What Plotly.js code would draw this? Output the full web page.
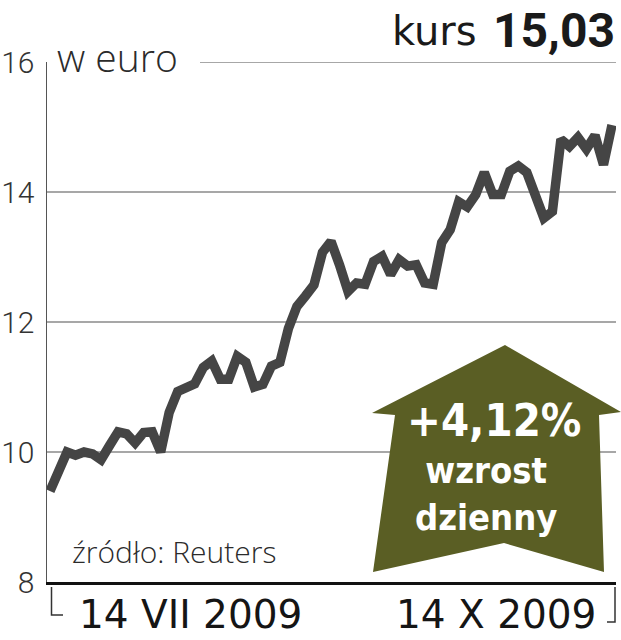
<!DOCTYPE html>
<html>
<head>
<meta charset="utf-8">
<script src="https://cdn.plot.ly/plotly-3.0.1.min.js"></script>
<style>html,body{margin:0;padding:0;background:#fff;}#chart{width:621px;height:640px;}</style>
</head>
<body>
<div id="chart"></div>
<script>
// daily closing prices (EUR), 14 VII 2009 – 14 X 2009
const days = Array.from({length: 67}, (_, i) => i);
const prices = [
  9.40, 9.75, 10.00, 9.95, 10.00, 9.97, 9.88, 10.10, 10.31, 10.28,
  10.14, 10.30, 10.31, 10.00, 10.61, 10.93, 11.00, 11.05, 11.30, 11.40,
  11.12, 11.12, 11.47, 11.38, 11.00, 11.04, 11.32, 11.38, 11.90, 12.24,
  12.40, 12.57, 13.07, 13.24, 12.88, 12.47, 12.60, 12.58, 12.93, 13.01,
  12.73, 12.96, 12.86, 12.88, 12.60, 12.58, 13.22, 13.42, 13.85, 13.77,
  13.96, 14.30, 13.96, 13.96, 14.32, 14.40, 14.30, 13.93, 13.60, 13.70,
  14.81, 14.70, 14.84, 14.66, 14.87, 14.42, 15.03
];
const yTicks = [8, 10, 12, 14, 16];
const dateLabels = ['14 VII 2009', '14 X 2009'];
const unitLabel = 'w euro';
const lastLabel = 'kurs';
const lastValue = '15,03';
const changeText = '+4,12%';
const changeLabel = ['wzrost', 'dzienny'];
const sourceText = 'źródło: Reuters';

const W = 621, H = 640, L = 47, R = 5, T = 62, B = 58;
const pw = W - L - R, ph = H - T - B;
const px = x => (x - L) / pw;
const py = y => 1 - (y - T) / ph;

const LIGHT = '"Open Sans", "DejaVu Sans", sans-serif';
const TICK = 'Roboto, "Open Sans", sans-serif';
const WIDE = '"DejaVu Sans", sans-serif';
const COND = '"DejaVu Sans Condensed", "Roboto", sans-serif';
const BOLD = 'Roboto, "Liberation Sans", sans-serif';
const dark = '#2b2b2b';

const shapes = [];
// gridlines
yTicks.slice(1).forEach(v => {
  shapes.push({type: 'line', xref: 'paper', yref: 'y', x0: v === 16 ? px(200) : 0, x1: 1, y0: v, y1: v,
    line: {color: '#8a8a8a', width: 1.5}, layer: 'below'});
});
// brackets under x axis
shapes.push({type: 'path', xref: 'paper', yref: 'paper',
  path: `M ${px(51.5)} ${py(587)} L ${px(51.5)} ${py(615)} L ${px(63)} ${py(615)}`,
  line: {color: '#333', width: 1.5}});
shapes.push({type: 'path', xref: 'paper', yref: 'paper',
  path: `M ${px(615)} ${py(587)} L ${px(615)} ${py(622)} L ${px(607)} ${py(622)}`,
  line: {color: '#333', width: 1.5}});
// arrow
const arrowPts = [[505,345],[621,412],[599,415],[604,572],[504,543],[373,572],[395,415],[372,413]];
shapes.push({type: 'path', xref: 'paper', yref: 'paper', layer: 'above',
  path: 'M ' + arrowPts.map(p => `${px(p[0])} ${py(p[1])}`).join(' L ') + ' Z',
  fillcolor: '#5a5e24', line: {width: 0}});

const annotations = [
  {text: unitLabel, xref: 'paper', yref: 'paper', x: px(55), y: py(56), xanchor: 'left', yanchor: 'middle',
   showarrow: false, font: {family: LIGHT, size: 39, color: dark, weight: 300}},
  {text: lastLabel, xref: 'paper', yref: 'paper', x: px(479), y: py(31),
   xanchor: 'right', yanchor: 'middle', showarrow: false, font: {family: WIDE, size: 40, color: '#1a1a1a'}},
  {text: '<b>' + lastValue + '</b>', xref: 'paper', yref: 'paper', x: px(617), y: py(31),
   xanchor: 'right', yanchor: 'middle', showarrow: false, font: {family: BOLD, size: 48, color: '#1a1a1a'}},
  {text: sourceText, xref: 'paper', yref: 'paper', x: px(70), y: py(551), xanchor: 'left', yanchor: 'middle',
   showarrow: false, font: {family: LIGHT, size: 30, color: dark, weight: 300}},
  {text: dateLabels[0], xref: 'paper', yref: 'paper', x: px(190), y: py(614), xanchor: 'center', yanchor: 'middle',
   showarrow: false, font: {family: WIDE, size: 39, color: '#151515'}},
  {text: dateLabels[1], xref: 'paper', yref: 'paper', x: px(496), y: py(614), xanchor: 'center', yanchor: 'middle',
   showarrow: false, font: {family: WIDE, size: 39, color: '#151515'}},
  {text: '<b>' + changeText + '</b>', xref: 'paper', yref: 'paper', x: px(494), y: py(420), xanchor: 'center', yanchor: 'middle',
   showarrow: false, font: {family: COND, size: 45, color: '#ffffff'}},
  {text: '<b>' + changeLabel.join('<br>') + '</b>', xref: 'paper', yref: 'paper', x: px(486), y: py(494), xanchor: 'center', yanchor: 'middle',
   showarrow: false, font: {family: COND, size: 36, color: '#ffffff'}}
];

const trace = {
  x: days, y: prices, type: 'scatter', mode: 'lines',
  line: {color: '#454545', width: 9.5}, cliponaxis: false, hoverinfo: 'skip'
};

const layout = {
  width: W, height: H,
  margin: {l: L, r: R, t: T, b: B, pad: 0},
  paper_bgcolor: '#fff', plot_bgcolor: '#fff',
  showlegend: false,
  xaxis: {range: [-0.35, 66.47], showgrid: false, zeroline: false, showticklabels: false, ticks: '',
          showline: true, linecolor: '#111', linewidth: 3, fixedrange: true},
  yaxis: {range: [8, 16], tickvals: yTicks, ticktext: yTicks.map(String), showgrid: false, zeroline: false,
          ticks: '', ticklabelstandoff: 5, showline: true, linecolor: '#555', linewidth: 1.5,
          tickfont: {family: TICK, size: 30, color: '#333', weight: 300}, fixedrange: true},
  shapes: shapes,
  annotations: annotations
};

Plotly.newPlot('chart', [trace], layout, {displayModeBar: false, staticPlot: true});
</script>
</body>
</html>
